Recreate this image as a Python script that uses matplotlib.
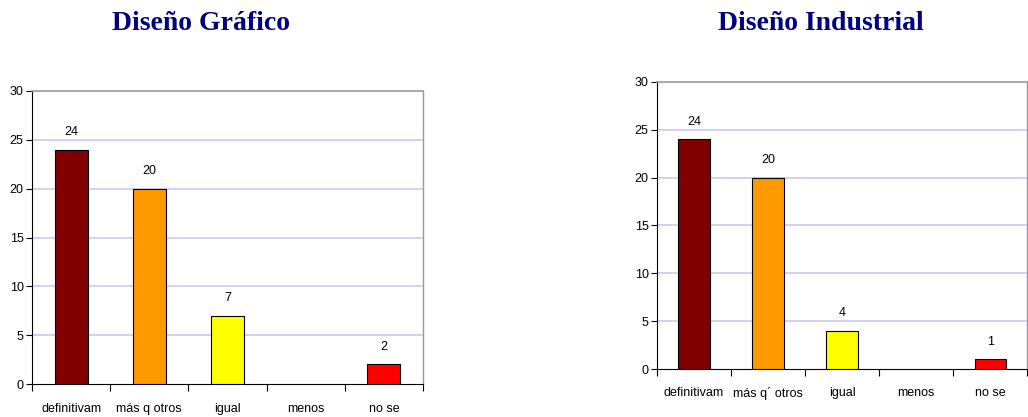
import numpy as np
import matplotlib
matplotlib.use("Agg")
import matplotlib.pyplot as plt
from matplotlib import font_manager

categories_grafico = ["definitivam", "más q otros", "igual", "menos", "no se"]
categories_industrial = ["definitivam", "más q´ otros", "igual", "menos", "no se"]
grafico = [24, 20, 7, 0, 2]
industrial = [24, 20, 4, 0, 1]
bar_colors = ["#800000", "#FF9900", "#FFFF00", "#FFFFFF", "#FF0000"]
yticks = [0, 5, 10, 15, 20, 25, 30]

installed = {f.name for f in font_manager.fontManager.ttflist}
small_font = "Liberation Sans Narrow" if "Liberation Sans Narrow" in installed else "Liberation Sans"

fig = plt.figure(figsize=(10.28, 4.17), dpi=100)


def draw_panel(ax, cats, values, label_pad):
    x = np.arange(len(cats))
    for xi, v, c in zip(x, values, bar_colors):
        if v > 0:
            ax.bar(xi, v, width=0.42, color=c, edgecolor="black", linewidth=0.8, zorder=3)
            ax.text(xi, v + 1.2, str(v), ha="center", va="bottom",
                    fontsize=9, family=small_font)
    ax.set_xlim(-0.5, len(cats) - 0.5)
    ax.set_ylim(0, 30)
    ax.set_yticks(yticks)
    ax.set_yticklabels([str(t) for t in yticks], fontsize=9, family=small_font)
    # ticks sit between categories, labels sit under each bar
    ax.set_xticks(np.arange(len(cats) + 1) - 0.5)
    ax.set_xticklabels([])
    ax.set_xticks(x, minor=True)
    ax.set_xticklabels(cats, minor=True, fontsize=9, family=small_font)
    ax.tick_params(axis="x", which="minor", length=0, pad=label_pad)
    ax.tick_params(axis="x", which="major", length=5, width=0.8, direction="out")
    ax.tick_params(axis="y", length=4, width=0.8, direction="out", pad=2)
    for y in yticks[1:-1]:
        ax.axhline(y, color="#C8C8F8", linewidth=1.2, zorder=1)
    ax.spines["left"].set_color("black")
    ax.spines["bottom"].set_color("black")
    ax.spines["top"].set_color("#999999")
    ax.spines["right"].set_color("#999999")
    ax.spines["top"].set_linewidth(1.2)
    ax.spines["right"].set_linewidth(1.0)


ax1 = fig.add_axes([0.0311, 0.0791, 0.3804, 0.7027])
draw_panel(ax1, categories_grafico, grafico, 13.5)

ax2 = fig.add_axes([0.6391, 0.1151, 0.3600, 0.6883])
draw_panel(ax2, categories_industrial, industrial, 13)

title_kw = dict(ha="center", va="center", fontsize=20, fontweight="bold",
                color="#000080", family="Liberation Serif")
fig.text(201 / 1028, 1 - 24 / 417, "Diseño Gráfico", **title_kw)
fig.text(821 / 1028, 1 - 24 / 417, "Diseño Industrial", **title_kw)

fig.savefig("out.png", dpi=100)
